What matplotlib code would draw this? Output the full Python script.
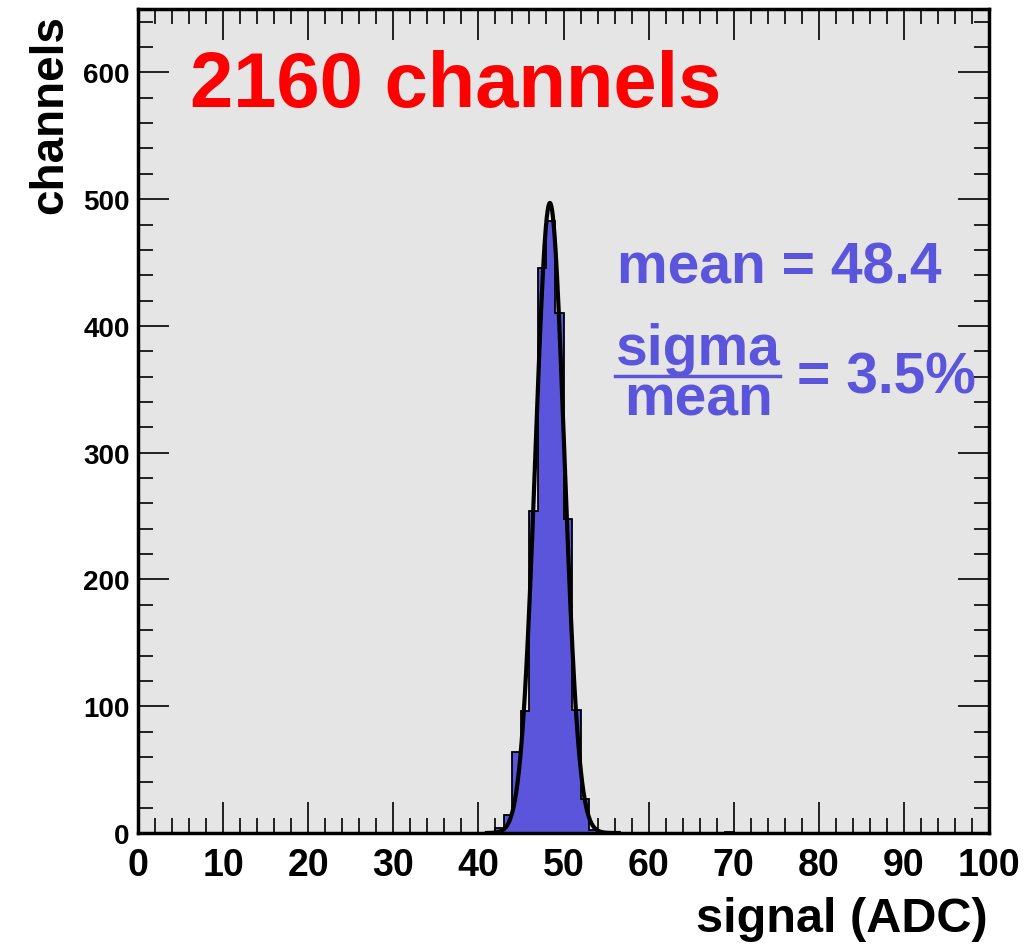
import numpy as np
import matplotlib.pyplot as plt
from matplotlib.ticker import MultipleLocator

plt.rcParams['font.family'] = ['Liberation Sans', 'DejaVu Sans']
plt.rcParams['font.weight'] = 'bold'

# histogram bins (1 ADC wide), lower edge and content
bin_lo = [42, 43, 44, 45, 46, 47, 48, 49, 50, 51, 52, 53, 69]
counts = [4, 14, 64, 96, 254, 446, 483, 410, 248, 97, 27, 2, 1]

# gaussian fit
fit_amp = 497.0
fit_mean = 48.4
fit_sigma = 1.69
fit_lo, fit_hi = 41.0, 56.5

hist_col = '#5b55dc'
text_col = '#5b55dc'

edges = np.arange(0, 101)
h = np.zeros(100)
for lo, c in zip(bin_lo, counts):
    h[lo] = c

fig = plt.figure(figsize=(10.25, 9.45), dpi=100)
ax = fig.add_axes([138/1025, 1-834/945, (989-138)/1025, (834-10)/945])
ax.set_facecolor('#e5e5e5')

ax.stairs(h, edges, fill=True, color=hist_col, zorder=2)
ax.stairs(h, edges, fill=False, color='black', lw=1.3, zorder=3)

xf = np.linspace(fit_lo, fit_hi, 400)
yf = fit_amp*np.exp(-0.5*((xf-fit_mean)/fit_sigma)**2)
ax.plot(xf, yf, color='black', lw=3, zorder=4)

ax.set_xlim(0, 100)
ax.set_ylim(0, 650)
ax.xaxis.set_major_locator(MultipleLocator(10))
ax.xaxis.set_minor_locator(MultipleLocator(2))
ax.yaxis.set_major_locator(MultipleLocator(100))
ax.yaxis.set_minor_locator(MultipleLocator(20))
ax.tick_params(which='both', direction='in', top=True, right=True, width=1.2)
ax.tick_params(which='major', length=22)
ax.tick_params(which='minor', length=11)
ax.tick_params(axis='x', which='major', labelsize=27, pad=10)
ax.tick_params(axis='y', which='major', labelsize=20, pad=6)
for lab in ax.get_xticklabels() + ax.get_yticklabels():
    lab.set_fontweight('bold')
for s in ax.spines.values():
    s.set_linewidth(2.5)

fig.text(50/1025, 1-15/945, 'channels', rotation=90, ha='center', va='top',
         fontsize=33, fontweight='bold')
fig.text(988/1025, 1-932/945, 'signal (ADC)', ha='right', va='baseline',
         fontsize=35, fontweight='bold')

fig.text(190/1025, 1-107/945, '2160 channels', color='red', ha='left', va='baseline',
         fontsize=56, fontweight='bold')
fig.text(617/1025, 1-284/945, 'mean = 48.4', color=text_col, ha='left', va='baseline',
         fontsize=41, fontweight='bold')
fig.text(698/1025, 1-365/945, 'sigma', color=text_col, ha='center', va='baseline',
         fontsize=41, fontweight='bold')
fig.text(698/1025, 1-416/945, 'mean', color=text_col, ha='center', va='baseline',
         fontsize=41, fontweight='bold')
fig.add_artist(plt.Line2D([615/1025, 780/1025], [1-376.5/945, 1-376.5/945],
                          color=text_col, lw=2.5))
fig.text(797/1025, 1-393/945, '= 3.5%', color=text_col, ha='left', va='baseline',
         fontsize=41, fontweight='bold')

fig.savefig('out.png', dpi=100)
